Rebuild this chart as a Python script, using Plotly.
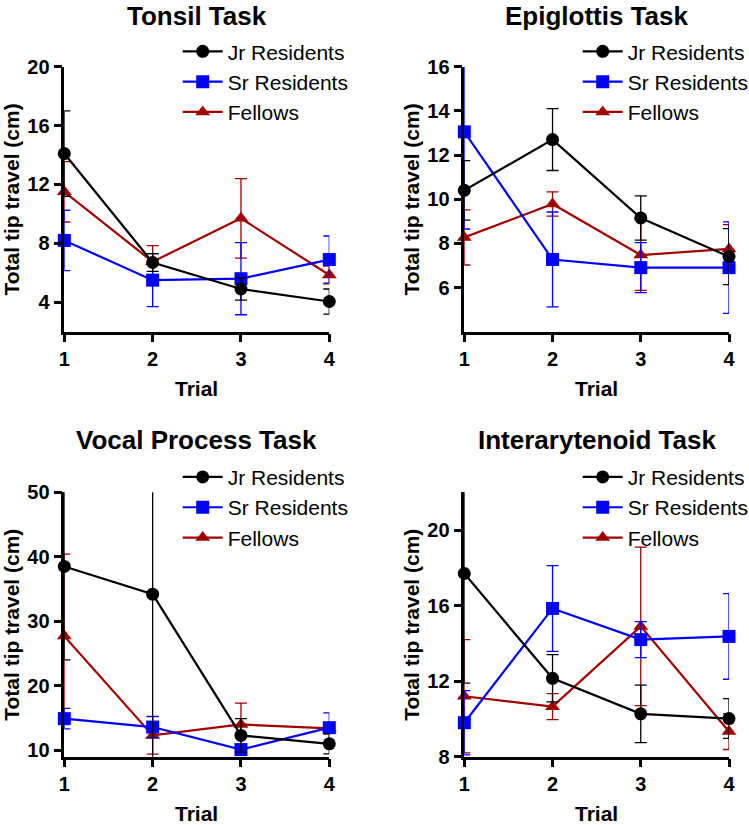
import plotly.graph_objects as go

trials = [1, 2, 3, 4]
series_names = ["Jr Residents", "Sr Residents", "Fellows"]

panel_titles = ["Tonsil Task", "Epiglottis Task", "Vocal Process Task", "Interarytenoid Task"]

# Tonsil
tonsil_jr = [14.1, 6.7, 4.9, 4.05]
tonsil_jr_err = [2.9, 0.6, 0.75, 0.85]
tonsil_sr = [8.2, 5.5, 5.6, 6.9]
tonsil_sr_err = [2.05, 1.8, 2.45, 1.6]
tonsil_fel = [11.5, 6.75, 9.7, 5.85]
tonsil_fel_err = [2.05, 1.1, 2.7, 0.6]

# Epiglottis
epi_jr = [10.4, 12.7, 9.15, 7.4]
epi_jr_err = [1.35, 1.4, 1.0, 1.27]
epi_sr = [13.05, 7.27, 6.9, 6.9]
epi_sr_err = [4.4, 2.15, 1.13, 2.07]
epi_fel = [8.27, 9.78, 7.47, 7.75]
epi_fel_err = [1.25, 0.55, 1.6, 1.1]

# Vocal process
vp_jr = [38.5, 34.2, 12.3, 11.0]
vp_jr_err = [14.5, 30.0, 2.6, 1.55]
vp_sr = [14.9, 13.6, 10.1, 13.5]
vp_sr_err = [1.6, 1.65, 0.8, 2.3]
vp_fel = [27.7, 12.3, 14.0, 13.4]
vp_fel_err = [12.7, 2.9, 3.3, 0.8]

# Interarytenoid
ia_jr = [17.7, 12.15, 10.27, 10.02]
ia_jr_err = [5.8, 1.25, 1.52, 1.05]
ia_sr = [9.8, 15.85, 14.2, 14.37]
ia_sr_err = [1.7, 2.27, 0.95, 2.27]
ia_fel = [11.2, 10.65, 14.9, 9.33]
ia_fel_err = [3.0, 0.69, 4.2, 0.95]

y_ranges = [[2, 20], [4, 16], [9, 50], [8, 22]]
y_ticks = [[4, 8, 12, 16, 20], [6, 8, 10, 12, 14, 16], [10, 20, 30, 40, 50], [8, 12, 16, 20]]

panels = [
    [(tonsil_jr, tonsil_jr_err), (tonsil_sr, tonsil_sr_err), (tonsil_fel, tonsil_fel_err)],
    [(epi_jr, epi_jr_err), (epi_sr, epi_sr_err), (epi_fel, epi_fel_err)],
    [(vp_jr, vp_jr_err), (vp_sr, vp_sr_err), (vp_fel, vp_fel_err)],
    [(ia_jr, ia_jr_err), (ia_sr, ia_sr_err), (ia_fel, ia_fel_err)],
]

colors = ["#000000", "#0000FF", "#A00000"]
symbols = ["circle", "square", "triangle-up"]

W, H = 749, 825
FONT = "Arial, Liberation Sans, sans-serif"

# pixel geometry of plot areas (left, right, top, bottom)
boxes = [
    (64.3, 329.3, 66.7, 331.7),
    (464.3, 729.0, 66.7, 331.7),
    (64.3, 329.3, 492.3, 756.7),
    (464.3, 729.0, 492.3, 756.7),
]
title_tops = [0.0, 0.0, 424.0, 424.0]

fig = go.Figure()
layout = dict(
    width=W, height=H,
    margin=dict(l=0, r=0, t=0, b=0, autoexpand=False),
    paper_bgcolor="white", plot_bgcolor="white",
    font=dict(family=FONT, color="black"),
    annotations=[],
)

legend_keys = ["legend", "legend2", "legend3", "legend4"]

for p in range(4):
    ax = "" if p == 0 else str(p + 1)
    xref = "x" + ax
    yref = "y" + ax
    # draw order: Fellows, Sr, Jr (Jr on top)
    for s in [2, 1, 0]:
        vals, errs = panels[p][s]
        fig.add_trace(go.Scatter(
            x=trials, y=vals, name=series_names[s],
            mode="lines+markers",
            line=dict(color=colors[s], width=2.2),
            marker=dict(symbol=symbols[s], size=13, color=colors[s], line=dict(width=0)),
            error_y=dict(type="data", array=errs, visible=True, thickness=1.3, width=6, color=colors[s]),
            cliponaxis=False,
            xaxis=xref, yaxis=yref,
            legend=legend_keys[p],
            legendrank=s + 1,
        ))
    l, r, t, b = boxes[p]
    xa = "xaxis" + ax
    ya = "yaxis" + ax
    layout[xa] = dict(
        domain=[l / W, r / W], range=[1, 4], anchor=yref,
        tickvals=trials, ticks="outside", ticklen=8, tickwidth=2.5, tickcolor="black",
        showline=True, linewidth=2.5, linecolor="black", showgrid=False, zeroline=False,
        tickfont=dict(size=20, family=FONT, weight="bold", color="black"),
        fixedrange=True,
    )
    layout[ya] = dict(
        domain=[1 - b / H, 1 - t / H], range=y_ranges[p], anchor=xref,
        tickvals=y_ticks[p], ticks="outside", ticklen=8, tickwidth=2.5, tickcolor="black",
        showline=True, linewidth=2.5, linecolor="black", showgrid=False, zeroline=False,
        tickfont=dict(size=20, family=FONT, weight="bold", color="black"),
        fixedrange=True,
    )
    cx = (l + r) / 2
    # panel title
    layout["annotations"].append(dict(
        text=panel_titles[p], x=cx / W, y=1 - title_tops[p] / H, xref="paper", yref="paper",
        xanchor="center", yanchor="top", showarrow=False, borderpad=0,
        font=dict(size=26, family=FONT, weight="bold", color="black"),
    ))
    # y-axis title
    layout["annotations"].append(dict(
        text="Total tip travel (cm)", x=(l - 53) / W, y=1 - ((t + b) / 2) / H,
        xref="paper", yref="paper", xanchor="center", yanchor="middle", textangle=-90,
        showarrow=False, font=dict(size=21, family=FONT, weight="bold", color="black"),
    ))
    # x-axis title
    layout["annotations"].append(dict(
        text="Trial", x=cx / W, y=1 - (b + 57) / H, xref="paper", yref="paper",
        xanchor="center", yanchor="middle", showarrow=False,
        font=dict(size=21, family=FONT, weight="bold", color="black"),
    ))
    # legend
    layout[legend_keys[p]] = dict(
        x=(l + 113.4) / W, y=1 - (t - 35.5) / H, xanchor="left", yanchor="top",
        bgcolor="rgba(0,0,0,0)", borderwidth=0,
        font=dict(size=21, family=FONT, color="black"),
        tracegroupgap=0, itemwidth=40,
    )

fig.update_layout(**layout)
fig.write_html(
    "out.html",
    config={"displayModeBar": False},
    post_script="document.body.style.margin='0';document.body.style.overflow='hidden';",
)
